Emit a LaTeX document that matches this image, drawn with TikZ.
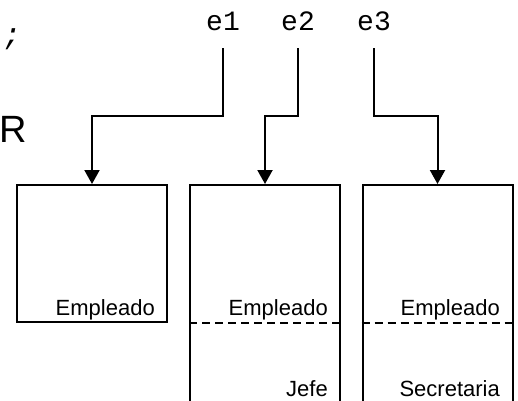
\documentclass[tikz,border=0pt]{standalone}
\usepackage{fontspec}
\setmainfont{Liberation Sans}
\setmonofont{Liberation Mono}
\usetikzlibrary{arrows.meta}

\begin{document}
\begin{tikzpicture}[x=1pt, y=-1pt,
    obj/.style={draw, line width=2pt, minimum width=150pt, inner sep=0pt},
    arr/.style={-{Triangle[width=15pt,length=14pt]}, line width=2pt},
    var/.style={font=\fontsize{28}{28}\ttfamily, inner sep=0pt, anchor=base},
    cls/.style={font=\fontsize{22}{22}\selectfont, inner sep=0pt, anchor=base east},
    sep/.style={dash pattern=on 8pt off 5pt, line width=2pt}]
  \useasboundingbox (0,0) rectangle (518,400);
  \clip (0,0) rectangle (518,400);

  % leftover bits of the code line
  \node[var, anchor=base west, font=\fontsize{30}{30}\ttfamily\itshape] (semi) at (3,44) {;};
  \node[font=\fontsize{38}{38}\selectfont, inner sep=0pt, anchor=base west] (r) at (-1,142) {R};

  % references
  \node[var] (e1) at (223,30) {e1};
  \node[var] (e2) at (298,30) {e2};
  \node[var] (e3) at (374,30) {e3};

  % objects
  \node[obj, minimum height=137pt] (obj1) at (92,253.5) {};
  \node[obj, minimum height=225pt] (obj2) at (265,297.5) {};
  \node[obj, minimum height=225pt] (obj3) at (437.5,297.5) {};
  \draw[sep] (obj2.west |- obj1.south) -- (obj2.east |- obj1.south);
  \draw[sep] (obj3.west |- obj1.south) -- (obj3.east |- obj1.south);

  \node[cls] (c1) at (155,315) {Empleado};
  \node[cls] (c2) at (328,315) {Empleado};
  \node[cls] (c3) at (500,315) {Empleado};
  \node[cls] (c4) at (328,396) {Jefe};
  \node[cls] (c5) at (500,396) {Secretaria};

  \draw[arr] (e1.base) ++(0,18) -- ++(0,68) -| (obj1.north);
  \draw[arr] (e2.base) ++(0,18) -- ++(0,68) -| (obj2.north);
  \draw[arr] (e3.base) ++(0,18) -- ++(0,68) -| (obj3.north);
\end{tikzpicture}
\end{document}
